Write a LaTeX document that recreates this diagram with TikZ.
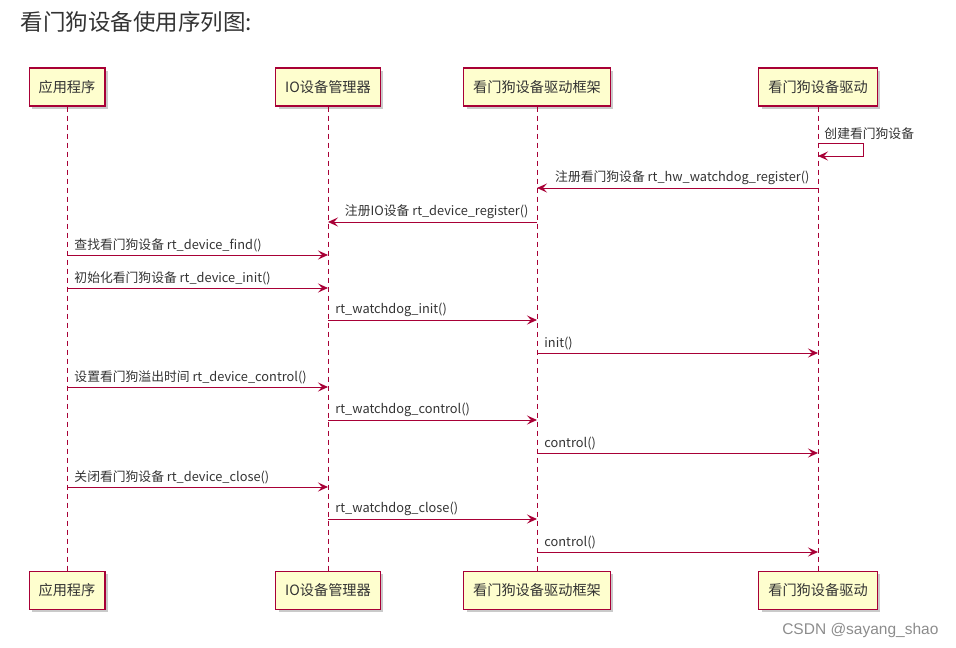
\documentclass[tikz,border=0pt]{standalone}
\usepackage{fontspec}
\setmainfont{Noto Sans CJK SC}
\newfontfamily\wmfont{Liberation Sans}
\usetikzlibrary{arrows.meta,positioning,shadows}
\definecolor{umlred}{HTML}{A80036}
\definecolor{umlbox}{HTML}{FEFECE}
\definecolor{umltext}{HTML}{333333}

\begin{document}
\begin{tikzpicture}[
  x=1pt, y=-1pt,
  part/.style={draw=umlred, line width=1.2pt, fill=umlbox, rectangle,
    minimum height=38pt, inner xsep=9.5pt, font=\fontsize{14.2}{16}\selectfont,
    text=umltext, drop shadow={shadow xshift=3pt, shadow yshift=-3pt,
    opacity=0.35, fill=black!60}},
  life/.style={umlred, line width=0.9pt, dash pattern=on 5pt off 4pt},
  msg/.style={umlred, line width=0.9pt, -{Stealth[length=10pt,width=9pt,inset=4pt]}},
  lbl/.style={font=\fontsize{12.8}{14}\selectfont, text=umltext, inner sep=1pt}
]
  \useasboundingbox (0,0) rectangle (956,648);
  \node[anchor=west, font=\fontsize{22.5}{26}\selectfont, text=umltext] (title) at (17,22) {看门狗设备使用序列图:};

  \node[part] (app) at (67,87)  {应用程序};
  \node[part] (io)  at (328,87) {IO设备管理器};
  \node[part] (fw)  at (537,87) {看门狗设备驱动框架};
  \node[part] (drv) at (818,87) {看门狗设备驱动};

  \node[part, below=464pt of app] (appB) {应用程序};
  \node[part, below=464pt of io]  (ioB)  {IO设备管理器};
  \node[part, below=464pt of fw]  (fwB)  {看门狗设备驱动框架};
  \node[part, below=464pt of drv] (drvB) {看门狗设备驱动};

  \draw[life] (app) -- (appB);
  \draw[life] (io)  -- (ioB);
  \draw[life] (fw)  -- (fwB);
  \draw[life] (drv) -- (drvB);

  % self message
  \draw[msg] (drv |- 0,143) -| (863,156)
    node[lbl, anchor=south west, at={(drv |- 0,143)}, xshift=5pt, yshift=2pt] {创建看门狗设备}
    -- (drv |- 0,156);

  \draw[msg] (drv |- 0,188) -- (fw |- 0,188)
    node[lbl, pos=0, anchor=south east, xshift=-7pt, yshift=2pt] {注册看门狗设备 rt\_hw\_watchdog\_register()};
  \draw[msg] (fw |- 0,222) -- (io |- 0,222)
    node[lbl, pos=0, anchor=south east, xshift=-7pt, yshift=2pt] {注册IO设备 rt\_device\_register()};
  \draw[msg] (app |- 0,255) -- (io |- 0,255)
    node[lbl, pos=0, anchor=south west, xshift=6pt, yshift=2pt] {查找看门狗设备 rt\_device\_find()};
  \draw[msg] (app |- 0,288) -- (io |- 0,288)
    node[lbl, pos=0, anchor=south west, xshift=6pt, yshift=2pt] {初始化看门狗设备 rt\_device\_init()};
  \draw[msg] (io |- 0,320) -- (fw |- 0,320)
    node[lbl, pos=0, anchor=south west, xshift=6pt, yshift=2pt] {rt\_watchdog\_init()};
  \draw[msg] (fw |- 0,353) -- (drv |- 0,353)
    node[lbl, pos=0, anchor=south west, xshift=6pt, yshift=2pt] {init()};
  \draw[msg] (app |- 0,387) -- (io |- 0,387)
    node[lbl, pos=0, anchor=south west, xshift=6pt, yshift=2pt] {设置看门狗溢出时间 rt\_device\_control()};
  \draw[msg] (io |- 0,420) -- (fw |- 0,420)
    node[lbl, pos=0, anchor=south west, xshift=6pt, yshift=2pt] {rt\_watchdog\_control()};
  \draw[msg] (fw |- 0,453) -- (drv |- 0,453)
    node[lbl, pos=0, anchor=south west, xshift=6pt, yshift=2pt] {control()};
  \draw[msg] (app |- 0,487) -- (io |- 0,487)
    node[lbl, pos=0, anchor=south west, xshift=6pt, yshift=2pt] {关闭看门狗设备 rt\_device\_close()};
  \draw[msg] (io |- 0,519) -- (fw |- 0,519)
    node[lbl, pos=0, anchor=south west, xshift=6pt, yshift=2pt] {rt\_watchdog\_close()};
  \draw[msg] (fw |- 0,552) -- (drv |- 0,552)
    node[lbl, pos=0, anchor=south west, xshift=6pt, yshift=2pt] {control()};

  \node[anchor=east, font=\wmfont\fontsize{15.5}{17}\selectfont, text=black!45] (wm) at (942,630) {CSDN @sayang\_shao};
\end{tikzpicture}
\end{document}
